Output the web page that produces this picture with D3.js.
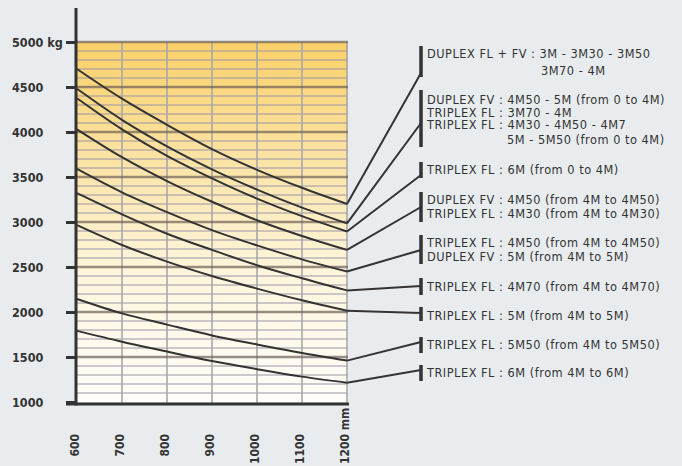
<!DOCTYPE html>
<html><head><meta charset="utf-8">
<script src="https://cdn.jsdelivr.net/npm/d3@7"></script>
<style>
html,body{margin:0;padding:0;background:#e9ecef;}
svg{display:block;}
.cond{font-family:'DejaVu Sans Condensed','DejaVu Sans',sans-serif;font-stretch:condensed;}
.leg{font-family:'DejaVu Sans',sans-serif;}
</style></head>
<body>
<svg id="chart" width="682" height="466"></svg>
<script>
// ---- data ----
const widthsMm = [600, 700, 800, 900, 1000, 1100, 1200];
const xTickLabels = ["600", "700", "800", "900", "1000", "1100", "1200 mm"];
const loadTicks = [1000, 1500, 2000, 2500, 3000, 3500, 4000, 4500, 5000];
const loadTickLabels = ["1000", "1500", "2000", "2500", "3000", "3500", "4000", "4500", "5000 kg"];

const duplexFlFv      = [4700, 4370, 4080, 3810, 3580, 3380, 3200];
const duplexFv4M50_5M = [4480, 4135, 3840, 3585, 3360, 3160, 2985];
const triplexFl6M_0_4 = [4375, 4030, 3735, 3485, 3260, 3065, 2895];
const duplexFv4M50    = [4030, 3720, 3455, 3225, 3020, 2845, 2690];
const triplexFl4M50   = [3590, 3330, 3110, 2910, 2740, 2585, 2450];
const triplexFl4M70   = [3320, 3085, 2870, 2690, 2520, 2375, 2240];
const triplexFl5M     = [2965, 2745, 2560, 2400, 2260, 2130, 2015];
const triplexFl5M50   = [2145, 1985, 1860, 1740, 1640, 1545, 1460];
const triplexFl6M     = [1790, 1670, 1560, 1455, 1365, 1282, 1215];

const labels1 = ["DUPLEX FL + FV : 3M - 3M30 - 3M50", "3M70 - 4M"];
const labels2 = ["DUPLEX FV : 4M50 - 5M (from 0 to 4M)", "TRIPLEX FL : 3M70 - 4M", "TRIPLEX FL : 4M30 - 4M50 - 4M7", "5M - 5M50 (from 0 to 4M)"];
const labels3 = ["TRIPLEX FL : 6M (from 0 to 4M)"];
const labels4 = ["DUPLEX FV : 4M50 (from 4M to 4M50)", "TRIPLEX FL : 4M30 (from 4M to 4M30)"];
const labels5 = ["TRIPLEX FL : 4M50 (from 4M to 4M50)", "DUPLEX FV : 5M (from 4M to 5M)"];
const labels6 = ["TRIPLEX FL : 4M70 (from 4M to 4M70)"];
const labels7 = ["TRIPLEX FL : 5M (from 4M to 5M)"];
const labels8 = ["TRIPLEX FL : 5M50 (from 4M to 5M50)"];
const labels9 = ["TRIPLEX FL : 6M (from 4M to 6M)"];

const series = [duplexFlFv, duplexFv4M50_5M, triplexFl6M_0_4, duplexFv4M50, triplexFl4M50, triplexFl4M70, triplexFl5M, triplexFl5M50, triplexFl6M];
const legendTexts = [labels1, labels2, labels3, labels4, labels5, labels6, labels7, labels8, labels9];

// ---- layout (positions only) ----
const legendLayout = [
  {bar:[46, 77], hit:73, lines:[58, 75], indent:[0, 114]},
  {bar:[90, 147], hit:123, lines:[104, 116.5, 129, 144], indent:[0, 0, 0, 80]},
  {bar:[162, 178], hit:175, lines:[174]},
  {bar:[192, 222], hit:207, lines:[204, 218]},
  {bar:[235, 264], hit:250, lines:[247, 261]},
  {bar:[278, 295], hit:286, lines:[291]},
  {bar:[307, 321], hit:313, lines:[320]},
  {bar:[337, 353], hit:342, lines:[349]},
  {bar:[365, 381], hit:370, lines:[377]}
];

const svg = d3.select("#chart");
const x = d3.scaleLinear().domain([600, 1200]).range([77, 347]);
const y = d3.scaleLinear().domain([1000, 5000]).range([402, 42]);
const ink = "#333";

// background gradient
const defs = svg.append("defs");
const grad = defs.append("linearGradient").attr("id", "bg").attr("x1", 0).attr("y1", 0).attr("x2", 0).attr("y2", 1);
grad.append("stop").attr("offset", "0%").attr("stop-color", "#fad067");
grad.append("stop").attr("offset", "30%").attr("stop-color", "#fce2a0");
grad.append("stop").attr("offset", "62%").attr("stop-color", "#fef5da");
grad.append("stop").attr("offset", "100%").attr("stop-color", "#fffefb");

svg.append("rect").attr("x", x(600)).attr("y", y(5000)).attr("width", x(1200) - x(600) + 1).attr("height", y(1000) - y(5000)).attr("fill", "url(#bg)");

// minor horizontal grid (every 100 kg)
const minor = d3.range(1100, 5000, 100).filter(v => v % 500 !== 0);
svg.append("g").selectAll("line").data(minor).join("line")
  .attr("x1", x(600)).attr("x2", x(1200) + 1).attr("y1", d => y(d)).attr("y2", d => y(d))
  .attr("stroke", "#9a94a8").attr("stroke-opacity", 0.5).attr("stroke-width", 2);
// vertical grid
svg.append("g").selectAll("line").data(widthsMm.slice(1)).join("line")
  .attr("x1", d => x(d)).attr("x2", d => x(d)).attr("y1", y(5000)).attr("y2", y(1000) + 1)
  .attr("stroke", "#a8a8a8").attr("stroke-opacity", 0.8).attr("stroke-width", 2);
// major horizontal grid
svg.append("g").selectAll("line").data(loadTicks.filter(v => v > 1000)).join("line")
  .attr("x1", x(600)).attr("x2", x(1200) + 1).attr("y1", d => y(d)).attr("y2", d => y(d))
  .attr("stroke", "#6e6058").attr("stroke-opacity", 0.7).attr("stroke-width", 2.5);

// curves
const line = d3.line().x((d, i) => x(widthsMm[i])).y(d => y(d)).curve(d3.curveMonotoneX);
svg.append("g").selectAll("path").data(series).join("path")
  .attr("d", d => line(d)).attr("fill", "none").attr("stroke", ink).attr("stroke-width", 2);

// connectors
const legendX = 421;
svg.append("g").selectAll("line").data(series).join("line")
  .attr("x1", x(1200)).attr("y1", d => y(d[d.length - 1]))
  .attr("x2", legendX).attr("y2", (d, i) => legendLayout[i].hit)
  .attr("stroke", ink).attr("stroke-width", 2);

// legend
const lg = svg.append("g").attr("class", "leg").attr("fill", ink).style("font-size", "11.4px").style("letter-spacing", "0.5px");
legendTexts.forEach((texts, i) => {
  const L = legendLayout[i];
  lg.append("line").attr("x1", legendX).attr("x2", legendX).attr("y1", L.bar[0]).attr("y2", L.bar[1])
    .attr("stroke", ink).attr("stroke-width", 3.5);
  texts.forEach((t, j) => {
    lg.append("text").attr("x", legendX + 6 + (L.indent ? L.indent[j] : 0)).attr("y", L.lines[j]).text(t);
  });
});

// y axis
const yAxis = d3.axisLeft(y).tickValues(loadTicks).tickSize(10).tickFormat((d, i) => loadTickLabels[i]);
const ya = svg.append("g").attr("transform", `translate(${x(600) - 1},0)`).call(yAxis);
ya.select(".domain").remove();
ya.selectAll(".tick line").attr("stroke", ink).attr("stroke-width", 3);
ya.selectAll(".tick text").attr("x", 12 - (x(600) - 1)).attr("text-anchor", "start").attr("dy", "0.36em")
  .attr("fill", ink).attr("class", "cond").style("font-size", "12.5px").style("font-weight", "bold");

// x axis: numbers end (top) at a common y, reading upward; " mm" extends above
const xAxis = d3.axisBottom(x).tickValues(widthsMm).tickSize(0).tickFormat((d, i) => xTickLabels[i]);
const xa = svg.append("g").attr("transform", `translate(0,${y(1000)})`).call(xAxis);
xa.select(".domain").remove();
const numTop = 434;
xa.selectAll(".tick text")
  .attr("transform", "rotate(-90)").attr("y", 0).attr("dy", "0.1em")
  .attr("text-anchor", "start").attr("fill", ink).attr("class", "cond").style("font-size", "12px").style("font-weight", "bold")
  .each(function(d) {
    const t = d3.select(this);
    const full = t.text();
    t.text(String(d));
    const w = this.getComputedTextLength();
    t.text(full);
    t.attr("x", -((numTop + w) - y(1000)));
  });

// axis lines
svg.append("line").attr("x1", x(600) - 1).attr("x2", x(600) - 1).attr("y1", 8).attr("y2", y(1000) + 3.5).attr("stroke", ink).attr("stroke-width", 3);
svg.append("line").attr("x1", 66).attr("x2", x(1200) + 2).attr("y1", y(1000) + 2).attr("y2", y(1000) + 2).attr("stroke", ink).attr("stroke-width", 3);
</script>
</body></html>
